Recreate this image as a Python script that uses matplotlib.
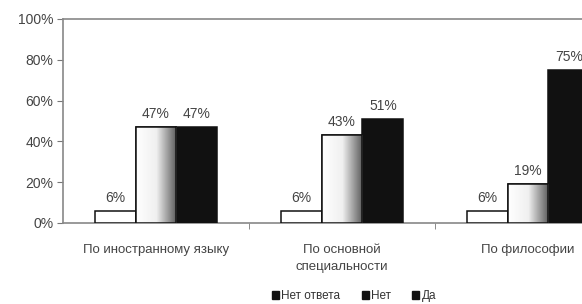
import numpy as np
import matplotlib.pyplot as plt
from matplotlib.patches import Patch
from matplotlib.colors import LinearSegmentedColormap

plt.rcParams['font.family'] = ['Liberation Sans', 'DejaVu Sans']

categories = ['По иностранному языку', 'По основной\nспециальности', 'По философии']
series = ['Нет ответа', 'Нет', 'Да']
no_answer = [6, 6, 6]
no = [47, 43, 19]
yes = [47, 51, 75]

fig = plt.figure(figsize=(5.82, 3.04), dpi=100)
# axes runs past the right edge, as in the cropped original
ax = fig.add_axes([63 / 582, 81 / 304, 558 / 582, 204 / 304])

x = np.arange(len(categories))
w = 0.22
edge = '#111111'
b1 = ax.bar(x - w, no_answer, w, color='white', edgecolor=edge, linewidth=1.1, zorder=3)
b2 = ax.bar(x, no, w, color='white', edgecolor=edge, linewidth=1.1, zorder=3)
b3 = ax.bar(x + w, yes, w, color='#111111', edgecolor=edge, linewidth=1.1, zorder=3)

# horizontal white -> gray gradient inside the "Нет" bars
cmap = LinearSegmentedColormap.from_list('g', ['#ffffff', '#f0f0f0', '#5a5a5a'])
grad = np.linspace(0, 1, 256).reshape(1, -1)
for r in b2:
    x0, y0 = r.get_x(), r.get_y()
    im = ax.imshow(grad, cmap=cmap, aspect='auto', zorder=3.5,
                   extent=[x0, x0 + r.get_width(), y0, y0 + r.get_height()])
    im.set_clip_path(r)
    ax.add_patch(plt.Rectangle((x0, y0), r.get_width(), r.get_height(), fill=False,
                               edgecolor=edge, linewidth=1.1, zorder=4))

for bars, vals in [(b1, no_answer), (b2, no), (b3, yes)]:
    for r, v in zip(bars, vals):
        ax.text(r.get_x() + r.get_width() / 2, v + 3, f'{v}%', ha='center', va='bottom',
                fontsize=10, color='#444444')

ax.set_xlim(-0.5, 2.5)
ax.set_ylim(0, 100)
ax.set_yticks(range(0, 101, 20))
ax.set_yticklabels([f'{t}%' for t in range(0, 101, 20)], fontsize=10, color='#444444')
ax.set_xticks([0.5, 1.5], minor=True)
ax.set_xticks(x)
ax.set_xticklabels(categories, fontsize=9.5, color='#444444', linespacing=1.6)
ax.tick_params(axis='x', which='major', length=0, pad=15)
ax.tick_params(axis='x', which='minor', length=4, color='#777777')
ax.tick_params(axis='y', length=4, color='#777777', pad=3)
for s in ax.spines.values():
    s.set_color('#888888')
    s.set_linewidth(1.2)

handles = [Patch(facecolor='#111111', edgecolor='#111111') for _ in series]
fig.legend(handles, series, loc='center', bbox_to_anchor=(354 / 582, 1 - 296 / 304), ncol=3,
           frameon=False, fontsize=8.5, handlelength=0.6, handleheight=0.6,
           handletextpad=0.2, columnspacing=1.8, labelcolor='#333333')

plt.savefig('out.png', dpi=100)
